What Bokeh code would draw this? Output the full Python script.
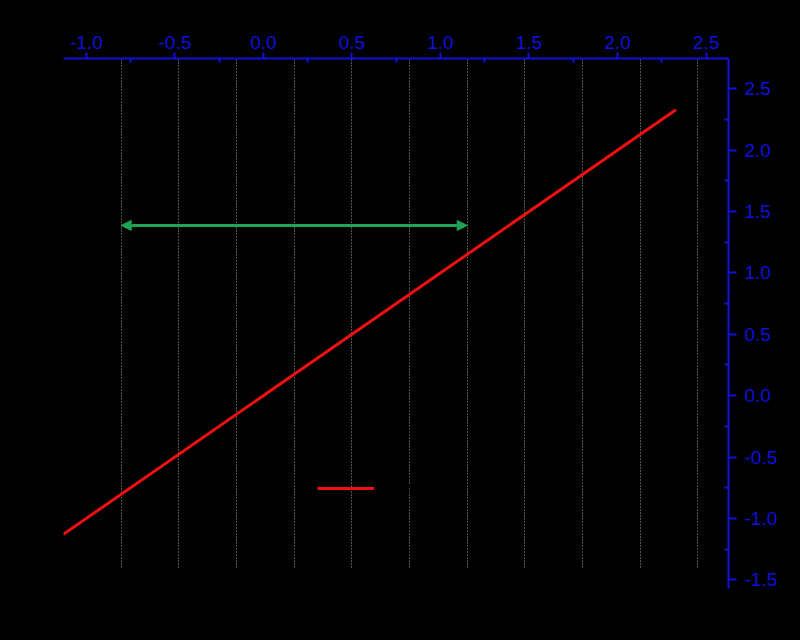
from bokeh.plotting import figure
from bokeh.models import (Range1d, LinearAxis, FixedTicker, PrintfTickFormatter,
                          Grid, Arrow, NormalHead, Legend, LegendItem)
from bokeh.embed import file_html
from bokeh.resources import INLINE

# ---- data ----
line_x = [-1.13, 2.33]
line_y = [-1.13, 2.33]
line_label = "y = x"

grid_positions = [1, 2, 3, 4, 5, 6, 7, 8, 9, 10, 11]   # hidden bottom-axis ticks
arrow_x_start = 1
arrow_x_end = 7
arrow_y = 1.387

top_ticks = [-1.0, -0.5, 0.0, 0.5, 1.0, 1.5, 2.0, 2.5]
right_ticks = [-1.5, -1.0, -0.5, 0.0, 0.5, 1.0, 1.5, 2.0, 2.5]

hidden_x_range = (0.0, 11.53)
top_range = (-1.129, 2.627)
right_range = (-1.571, 2.747)
grid_bottom = -1.40

BLUE = "#1010dd"
FONT = "Liberation Sans"

p = figure(width=800, height=640, output_backend="svg", toolbar_location=None,
           x_range=Range1d(*hidden_x_range), y_range=Range1d(*right_range),
           x_axis_location=None, y_axis_location=None,
           min_border_left=63, min_border_top=58, min_border_right=72,
           min_border_bottom=52)
p.background_fill_color = "black"
p.border_fill_color = "black"
p.outline_line_color = None
p.xgrid.grid_line_color = None
p.ygrid.grid_line_color = None

p.extra_x_ranges = {"top": Range1d(*top_range)}

def minors(ticks):
    return [(a + b) / 2 for a, b in zip(ticks[:-1], ticks[1:])]

top_axis = LinearAxis(x_range_name="top",
                      ticker=FixedTicker(ticks=top_ticks, minor_ticks=minors(top_ticks)),
                      formatter=PrintfTickFormatter(format="%.1f"))
right_axis = LinearAxis(ticker=FixedTicker(ticks=right_ticks, minor_ticks=minors(right_ticks)),
                        formatter=PrintfTickFormatter(format="%.1f"))
for ax, out, stand in ((top_axis, 6, 4), (right_axis, 8, 8)):
    ax.axis_line_color = BLUE
    ax.axis_line_width = 2
    ax.major_tick_line_color = BLUE
    ax.major_tick_line_width = 2
    ax.minor_tick_line_color = BLUE
    ax.minor_tick_line_width = 2
    ax.major_tick_out = out
    ax.major_tick_in = 0
    ax.minor_tick_in = 4
    ax.minor_tick_out = 0
    ax.major_label_text_color = BLUE
    ax.major_label_text_font = FONT
    ax.major_label_text_font_size = "19px"
    ax.major_label_standoff = stand
p.add_layout(top_axis, "above")
p.add_layout(right_axis, "right")

grid = Grid(dimension=0, ticker=FixedTicker(ticks=grid_positions),
            grid_line_color="#a8a8a8", grid_line_dash="1 2", grid_line_width=1,
            cross_bounds=(grid_bottom, right_range[1]))
p.add_layout(grid)

r = p.line(line_x, line_y, x_range_name="top", line_color="#ee1111", line_width=3)

arrow = Arrow(x_start=arrow_x_start, y_start=arrow_y, x_end=arrow_x_end, y_end=arrow_y,
              line_color="#1fa354", line_width=3,
              start=NormalHead(size=10, fill_color="#1fa354", line_color="#1fa354"),
              end=NormalHead(size=10, fill_color="#1fa354", line_color="#1fa354"))
p.add_layout(arrow)

legend = Legend(items=[LegendItem(label=line_label, renderers=[r])],
                location=(254, 90), glyph_width=57, glyph_height=20,
                padding=0, margin=0, spacing=0,
                background_fill_alpha=0, border_line_alpha=0,
                label_text_color="black", label_text_font=FONT,
                label_text_font_size="17px")
p.add_layout(legend, "center")

html = file_html(p, INLINE)
html = html.replace("<head>", "<head><style>body{background:#000;}</style>", 1)
open("out.html", "w").write(html)
